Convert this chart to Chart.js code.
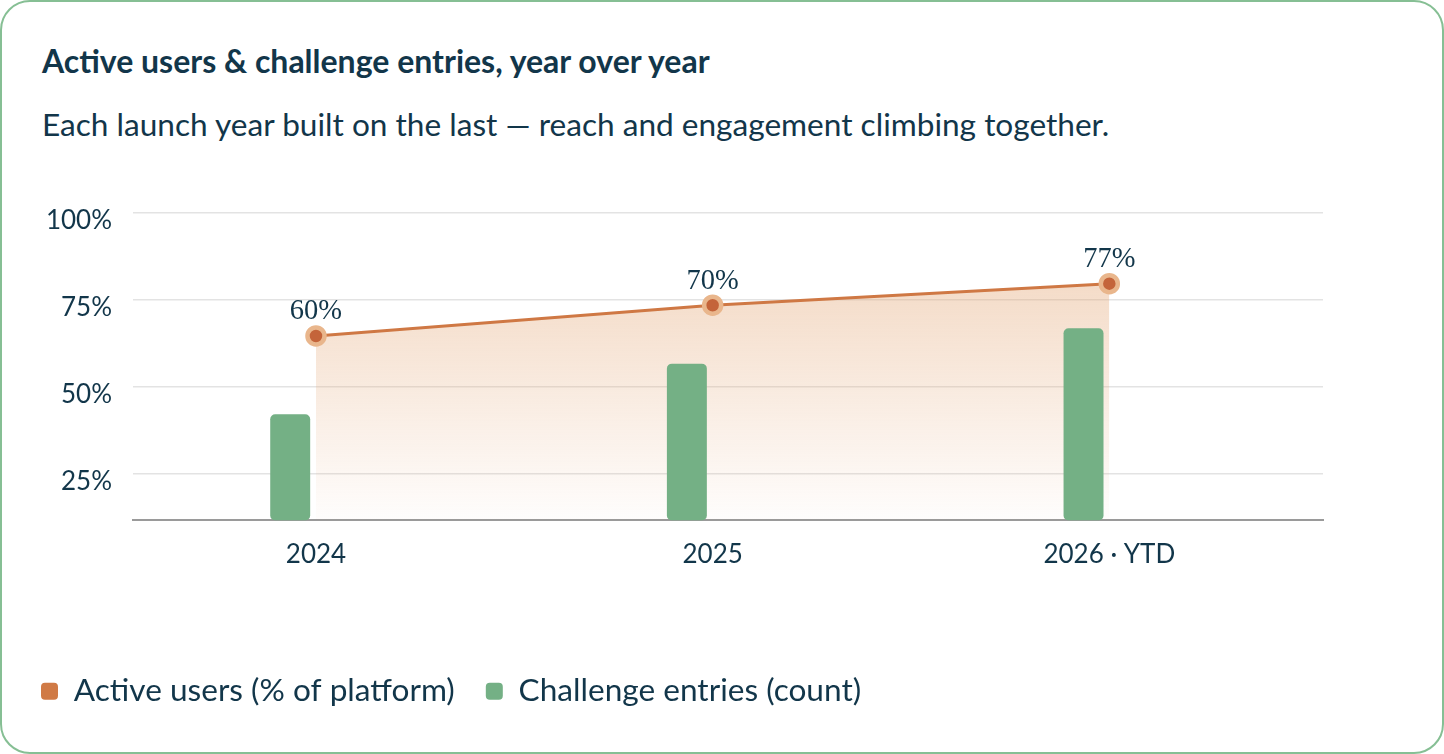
<!DOCTYPE html>
<html><head><meta charset="utf-8">
<script src="https://cdn.jsdelivr.net/npm/chart.js@4.4.1/dist/chart.umd.min.js"></script>
<style>
html,body{margin:0;padding:0;background:#fff;}
body{width:1444px;height:754px;position:relative;overflow:hidden;font-family:Lato,sans-serif;color:#12364a;}
.card{position:absolute;left:0;top:0;width:1444px;height:754px;box-sizing:border-box;border:2px solid #86bf94;border-radius:30px;background:#fff;}
h1{position:absolute;left:42px;top:45px;margin:0;font-size:32px;line-height:32px;font-weight:700;white-space:nowrap;}
p{position:absolute;left:42px;top:108px;margin:0;font-size:31.6px;line-height:32px;font-weight:400;white-space:nowrap;}
canvas{position:absolute;left:0;top:0;}
</style></head><body>
<div class="card"></div>
<h1>Active users &amp; challenge entries, year over year</h1>
<p>Each launch year built on the last — reach and engagement climbing together.</p>
<canvas id="c" width="1444" height="754" style="width:1444px;height:754px"></canvas>
<script>
const categories = ['2024', '2025', '2026 · YTD'];
const seriesNames = ['Active users (% of platform)', 'Challenge entries (count)'];
const activeUsers = [60, 70, 77];
const challengeEntries = [1380, 2040, 2500];
const yTicks = [25, 50, 75, 100];

const ink = '#12364a';
const xs = categories.map((_, i) => i);

const pointLabels = {
  id: 'pointLabels',
  afterDatasetsDraw(chart) {
    const meta = chart.getDatasetMeta(0);
    const ctx = chart.ctx;
    ctx.save();
    ctx.font = '28.5px "Liberation Serif", serif';
    ctx.fillStyle = ink;
    ctx.textAlign = 'center';
    ctx.textBaseline = 'alphabetic';
    meta.data.forEach((pt, i) => ctx.fillText(activeUsers[i] + '%', pt.x, pt.y - 16.5));
    ctx.restore();
  }
};

Chart.defaults.font.family = 'Lato, sans-serif';
Chart.defaults.color = ink;

new Chart(document.getElementById('c'), {
  type: 'bar',
  data: {
    datasets: [
      {
        type: 'line', label: seriesNames[0],
        data: xs.map((x, i) => ({ x, y: activeUsers[i] })),
        yAxisID: 'y1', order: 2,
        borderColor: '#cf7844', borderWidth: 3, tension: 0,
        fill: 'origin',
        backgroundColor: (ctx) => {
          const ca = ctx.chart.chartArea;
          if (!ca) return 'rgba(228,168,120,0.3)';
          const g = ctx.chart.ctx.createLinearGradient(0, ca.top, 0, ca.bottom);
          g.addColorStop(0, 'rgba(228,168,120,0.52)');
          g.addColorStop(1, 'rgba(228,168,120,0.02)');
          return g;
        },
        pointRadius: 8.5, pointHoverRadius: 8.5, pointBorderWidth: 4.5,
        pointBackgroundColor: '#c4643a', pointBorderColor: '#e9b68c'
      },
      {
        type: 'bar', label: seriesNames[1],
        data: xs.map((x, i) => ({ x, y: challengeEntries[i] })),
        yAxisID: 'y2', order: 1,
        backgroundColor: '#74b085', borderRadius: 5, borderSkipped: false,
        categoryPercentage: 0.26, barPercentage: 0.775
      },
      {
        type: 'bar', label: '_spacer',
        data: xs.map(x => ({ x, y: null })),
        yAxisID: 'y2', order: 1,
        backgroundColor: 'rgba(0,0,0,0)',
        categoryPercentage: 0.26, barPercentage: 0.775
      }
    ]
  },
  options: {
    responsive: false,
    animation: false,
    devicePixelRatio: 1,
    layout: { padding: { left: 10, right: 121, top: 213, bottom: 37 } },
    plugins: {
      tooltip: { enabled: false },
      legend: {
        position: 'bottom', align: 'start',
        labels: {
          font: { size: 31.6 }, color: ink, padding: 31,
          boxWidth: 17, boxHeight: 17, useBorderRadius: true, borderRadius: 4,
          generateLabels: () => [
            { text: seriesNames[0], fillStyle: '#d07a45', strokeStyle: '#d07a45', lineWidth: 0, datasetIndex: 0, borderRadius: 4, fontColor: ink },
            { text: seriesNames[1], fillStyle: '#74b085', strokeStyle: '#74b085', lineWidth: 0, datasetIndex: 1, borderRadius: 4, fontColor: ink }
          ]
        }
      }
    },
    scales: {
      x: {
        type: 'linear', min: -0.4613, max: 2.5387, offset: false,
        grid: { display: false },
        border: { display: true, color: '#9a9a9a', width: 2 },
        afterBuildTicks: s => { s.ticks = xs.map(v => ({ value: v })); },
        ticks: { callback: v => categories[v], color: ink, font: { size: 26 }, padding: 11, maxRotation: 0, autoSkip: false },
        afterFit: s => { s.height = 124; }
      },
      y: {
        position: 'left', min: 11.7, max: 100,
        afterBuildTicks: s => { s.ticks = yTicks.map(v => ({ value: v })); },
        grid: { color: '#e3e3e3', lineWidth: 1.5, drawTicks: false },
        border: { display: false },
        ticks: { callback: v => v + '%', color: ink, font: { size: 26 }, padding: 21, labelOffset: 8 },
        afterFit: s => { s.width = 123; }
      },
      y1: { display: false, min: 0, max: 100 },
      y2: { display: false, min: 0, max: 4000 }
    }
  },
  plugins: [pointLabels]
});
</script>
</body></html>
